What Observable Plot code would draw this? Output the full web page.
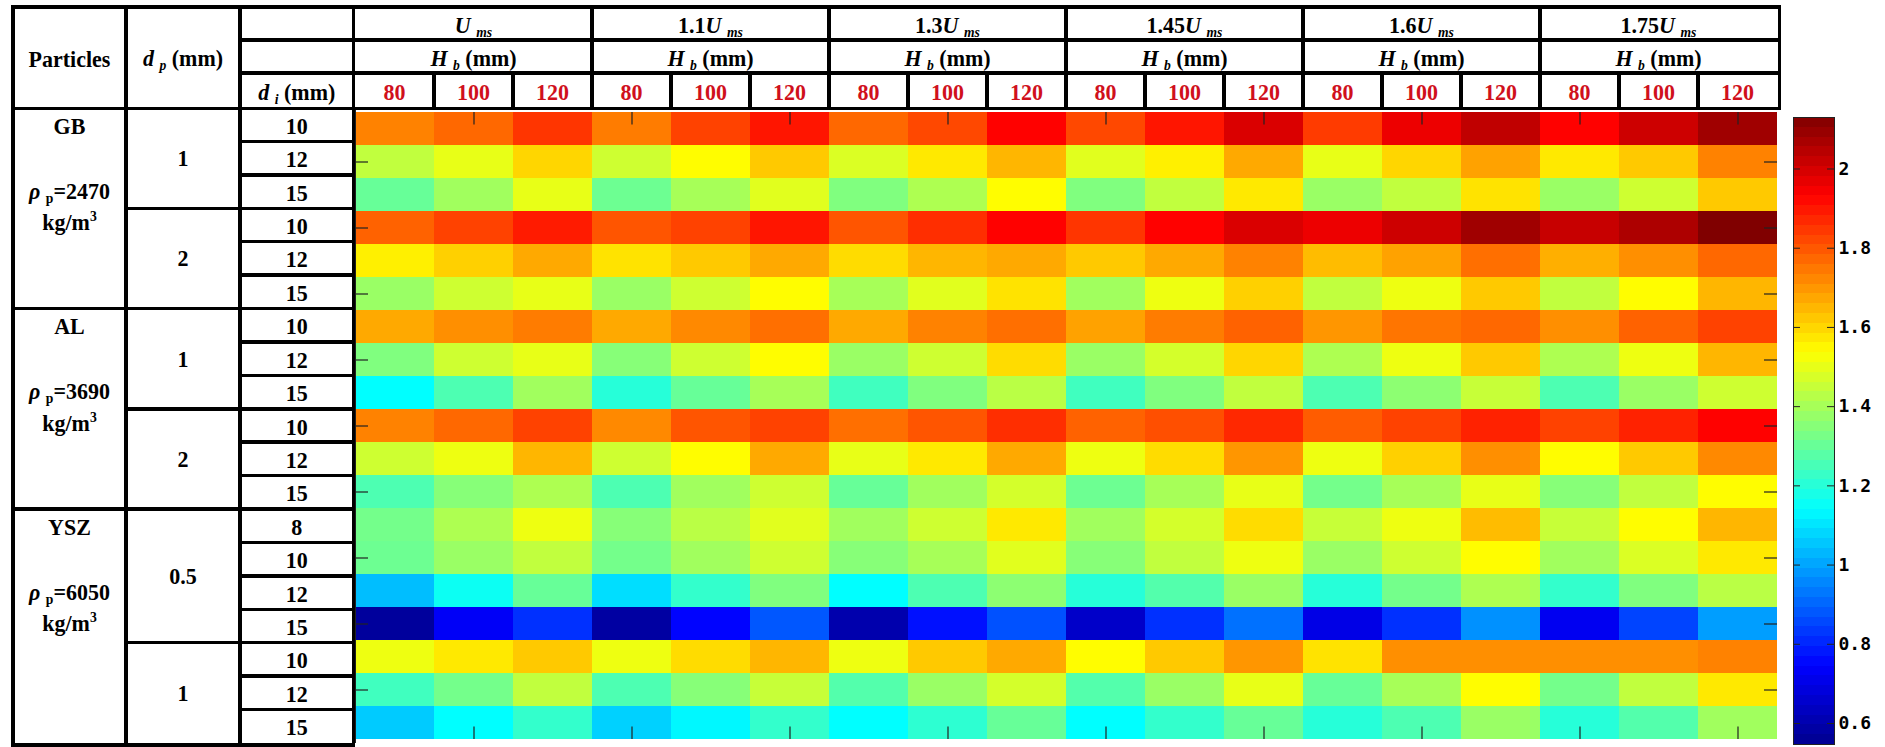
<!DOCTYPE html>
<html>
<head>
<meta charset="utf-8">
<script src="https://cdn.jsdelivr.net/npm/d3@7"></script>
<script src="https://cdn.jsdelivr.net/npm/@observablehq/plot@0.6"></script>
<style>
  html, body { margin: 0; padding: 0; background: #fff; }
  #root { position: relative; width: 1885px; height: 747px; overflow: hidden; font-family: "Liberation Serif", "Times New Roman", serif; font-weight: bold; color: #000; }
  .ln { position: absolute; background: #000; }
  .lb { position: absolute; transform: translate(-50%, -50%) scaleY(1.08); white-space: nowrap; line-height: 1; font-size: 22px; }
  .lb i { font-style: italic; }
  .lb sub { font-size: 0.62em; vertical-align: -0.3em; line-height: 0; }
  .lb sup { font-size: 0.62em; vertical-align: 0.55em; line-height: 0; }
  .red { color: #d0101c; }
  .abs { position: absolute; }
</style>
</head>
<body>
<div id="root"></div>
<script>
// ---------------- data ----------------
const velocityPrefixes = ["", "1.1", "1.3", "1.45", "1.6", "1.75"];   // multiples of U_ms
const bedHeights = ["80", "100", "120"];                                // H_b (mm)
const particleNames = ["GB", "AL", "YSZ"];
const particleDensities = ["2470", "3690", "6050"];                     // kg/m^3
const rowParticle = ["GB","GB","GB","GB","GB","GB","AL","AL","AL","AL","AL","AL","YSZ","YSZ","YSZ","YSZ","YSZ","YSZ","YSZ"];
const rowDp = ["1","1","1","2","2","2","1","1","1","2","2","2","0.5","0.5","0.5","0.5","1","1","1"];
const rowDi = ["10","12","15","10","12","15","10","12","15","10","12","15","8","10","12","15","10","12","15"];
const values = [
  [1.73,1.77,1.85,1.74,1.83,1.90, 1.77,1.82,1.93,1.82,1.90,1.99, 1.84,1.96,2.03,1.93,2.01,2.08],
  [1.44,1.50,1.60,1.46,1.54,1.62, 1.48,1.57,1.65,1.49,1.56,1.67, 1.50,1.60,1.68,1.57,1.62,1.73],
  [1.30,1.39,1.50,1.31,1.40,1.49, 1.34,1.41,1.54,1.34,1.44,1.57, 1.38,1.44,1.58,1.38,1.46,1.62],
  [1.78,1.83,1.89,1.80,1.83,1.90, 1.80,1.86,1.93,1.85,1.93,1.99, 1.96,2.01,2.08,2.02,2.06,2.13],
  [1.56,1.61,1.67,1.58,1.62,1.67, 1.59,1.65,1.67,1.62,1.67,1.73, 1.64,1.68,1.76,1.66,1.71,1.77],
  [1.38,1.46,1.50,1.38,1.46,1.54, 1.40,1.49,1.58,1.39,1.51,1.61, 1.44,1.51,1.62,1.44,1.54,1.65],
  [1.67,1.71,1.74,1.67,1.72,1.76, 1.67,1.73,1.76,1.68,1.74,1.78, 1.70,1.75,1.77,1.71,1.78,1.83],
  [1.34,1.46,1.50,1.35,1.46,1.54, 1.38,1.46,1.59,1.38,1.47,1.60, 1.41,1.51,1.62,1.41,1.51,1.65],
  [1.14,1.26,1.39,1.20,1.30,1.40, 1.24,1.34,1.43,1.24,1.34,1.44, 1.26,1.36,1.45,1.26,1.38,1.46],
  [1.73,1.77,1.83,1.72,1.80,1.83, 1.76,1.80,1.86,1.78,1.81,1.87, 1.79,1.83,1.88,1.83,1.88,1.93],
  [1.46,1.51,1.65,1.46,1.54,1.67, 1.50,1.57,1.67,1.51,1.59,1.70, 1.51,1.61,1.71,1.54,1.62,1.72],
  [1.26,1.35,1.41,1.26,1.39,1.46, 1.30,1.39,1.47,1.31,1.40,1.50, 1.32,1.40,1.50,1.35,1.44,1.54],
  [1.32,1.41,1.51,1.35,1.43,1.49, 1.39,1.46,1.57,1.39,1.47,1.59, 1.45,1.51,1.64,1.45,1.54,1.65],
  [1.31,1.38,1.44,1.32,1.39,1.46, 1.35,1.40,1.49,1.35,1.44,1.51, 1.38,1.46,1.54,1.39,1.48,1.57],
  [1.04,1.16,1.30,1.09,1.22,1.34, 1.14,1.26,1.36,1.20,1.27,1.38, 1.20,1.32,1.41,1.22,1.34,1.43],
  [0.57,0.73,0.82,0.58,0.75,0.88, 0.60,0.77,0.87,0.65,0.82,0.92, 0.70,0.82,0.97,0.72,0.85,0.99],
  [1.51,1.57,1.62,1.51,1.59,1.65, 1.51,1.62,1.67,1.54,1.62,1.70, 1.58,1.71,1.71,1.71,1.71,1.73],
  [1.24,1.32,1.44,1.26,1.35,1.45, 1.27,1.38,1.47,1.27,1.38,1.50, 1.30,1.40,1.54,1.32,1.44,1.57],
  [1.06,1.14,1.22,1.07,1.13,1.22, 1.14,1.21,1.30,1.14,1.22,1.30, 1.20,1.26,1.38,1.20,1.27,1.39]
];
const colorTicks = [0.6, 0.8, 1, 1.2, 1.4, 1.6, 1.8, 2];
const colorExtent = [0.547, 2.13];

// ---------------- layout / style ----------------
const X0 = 355, X1 = 1777, Y0 = 108, Y1 = 743;
const nCols = velocityPrefixes.length * bedHeights.length;
const nRows = rowDi.length;
const colW = (X1 - X0) / nCols, rowH = (Y1 - Y0) / nRows;
const groupW = colW * bedHeights.length;
const LW = 3.5;
const TICK = 13;
const jetT = [0, 0.125, 0.375, 0.625, 0.875, 1];
const jetColors = ["#00008f", "#0000ff", "#00ffff", "#ffff00", "#ff0000", "#800000"];
const jetDomain = jetT.map(t => colorExtent[0] + t * (colorExtent[1] - colorExtent[0]));
const colorScale = {type: "linear", domain: jetDomain, range: jetColors, interpolate: "rgb", clamp: true};

const root = document.getElementById("root");
function hline(x1, x2, y, w = LW) {
  const d = document.createElement("div"); d.className = "ln";
  Object.assign(d.style, {left: x1 + "px", top: (y - w / 2) + "px", width: (x2 - x1) + "px", height: w + "px"});
  root.appendChild(d);
}
function vline(x, y1, y2, w = LW) {
  const d = document.createElement("div"); d.className = "ln";
  Object.assign(d.style, {left: (x - w / 2) + "px", top: y1 + "px", width: w + "px", height: (y2 - y1) + "px"});
  root.appendChild(d);
}
function label(html, cx, cy, cls = "") {
  const d = document.createElement("div"); d.className = "lb " + cls;
  d.innerHTML = html;
  Object.assign(d.style, {left: cx + "px", top: cy + "px"});
  root.appendChild(d);
}

// ---------------- heatmap ----------------
const colKeys = velocityPrefixes.flatMap((v, i) => bedHeights.map(h => `${i}|${h}`));
const rowKeys = rowDi.map((d, i) => `${i}`);
const cells = values.flatMap((r, i) => r.map((v, j) => ({row: rowKeys[i], col: colKeys[j], v})));
const oddCols = colKeys.filter((_, j) => j % 2 === 1);
const oddRows = rowKeys.filter((_, i) => i % 2 === 1);

const heat = Plot.plot({
  width: X1 - X0, height: Y1 - Y0,
  marginTop: 0, marginRight: 0, marginBottom: 0, marginLeft: 0,
  x: {type: "band", domain: colKeys, padding: 0, axis: null},
  y: {type: "band", domain: rowKeys, padding: 0, axis: null},
  color: colorScale,
  marks: [
    Plot.cell(cells, {x: "col", y: "row", fill: "v", inset: 0, shapeRendering: "crispEdges"}),
    Plot.tickX(oddCols, {x: d => d, y: () => rowKeys[0], insetBottom: rowH - TICK, stroke: "#222", strokeWidth: 1.2}),
    Plot.tickX(oddCols, {x: d => d, y: () => rowKeys[nRows - 1], insetTop: rowH - TICK, stroke: "#222", strokeWidth: 1.2}),
    Plot.tickY(oddRows, {y: d => d, x: () => colKeys[0], insetRight: colW - TICK, stroke: "#222", strokeWidth: 1.2}),
    Plot.tickY(oddRows, {y: d => d, x: () => colKeys[nCols - 1], insetLeft: colW - TICK, stroke: "#222", strokeWidth: 1.2}),
    Plot.frame({stroke: "#222", strokeWidth: 1})
  ]
});
const heatBox = document.createElement("div");
heatBox.className = "abs";
Object.assign(heatBox.style, {left: X0 + "px", top: Y0 + "px"});
heatBox.appendChild(heat);
root.appendChild(heatBox);

// ---------------- colour bar ----------------
const nLevels = 64;
const step = (colorExtent[1] - colorExtent[0]) / nLevels;
const bands = d3.range(nLevels).map(i => ({y1: colorExtent[0] + i * step, y2: colorExtent[0] + (i + 1) * step, v: colorExtent[0] + (i + 0.5) * step}));
const CB_L = 1793, CB_T = 117, CB_W = 41, CB_H = 627;
const cbar = Plot.plot({
  width: CB_W + 1 + 50, height: CB_H + 2,
  marginLeft: 1, marginRight: 50, marginTop: 1, marginBottom: 1,
  style: {fontFamily: "'DejaVu Sans Mono', monospace", fontSize: "18px", fontWeight: "bold", overflow: "visible"},
  x: {domain: [0, 1], axis: null},
  y: {domain: colorExtent, axis: null},
  color: colorScale,
  marks: [
    Plot.rect(bands, {x1: () => 0, x2: () => 1, y1: "y1", y2: "y2", fill: "v", shapeRendering: "crispEdges"}),
    Plot.tickY(colorTicks, {y: d => d, insetRight: CB_W - 7, stroke: "#222"}),
    Plot.tickY(colorTicks, {y: d => d, insetLeft: CB_W - 7, stroke: "#222"}),
    Plot.axisY(colorTicks, {anchor: "right", tickSize: 0, tickPadding: 4, tickFormat: d => String(d), fontSize: 18, label: null}),
    Plot.frame({stroke: "#222", strokeWidth: 1})
  ]
});
const cbBox = document.createElement("div");
cbBox.className = "abs";
Object.assign(cbBox.style, {left: (CB_L - 1) + "px", top: (CB_T - 1) + "px"});
cbBox.appendChild(cbar);
root.appendChild(cbBox);

// ---------------- table lines ----------------
const TL = 13, TT = 7, C1 = 126, C2 = 240, C3 = 353.5, H1 = 40, H2 = 73, H3 = 108.5, TB = 745, TR = 1779.5;
hline(TL - LW / 2, TR + LW / 2, TT);
hline(C2, TR + LW / 2, H1);
hline(C2, TR + LW / 2, H2);
hline(TL - LW / 2, TR + LW / 2, H3);
for (let i = 1; i < nRows; i++) {
  const y = Y0 + i * rowH;
  if (rowParticle[i] !== rowParticle[i - 1]) hline(TL, X0, y);
  else if (rowDp[i] !== rowDp[i - 1]) hline(C1, X0, y);
  else hline(C2, X0, y);
}
hline(TL - LW / 2, X0, TB);
[TL, C1, C2, C3].forEach(x => vline(x, TT, TB + LW / 2));
for (let k = 1; k < velocityPrefixes.length; k++) vline(X0 + k * groupW, TT, H3);
for (let j = 1; j < nCols; j++) if (j % bedHeights.length) vline(X0 + j * colW, H2, H3);
vline(TR, TT, H3);

// ---------------- header text ----------------
label("Particles", (TL + C1) / 2, (TT + H3) / 2 + 1);
label("<i>d</i> <sub><i>p</i></sub> (mm)", (C1 + C2) / 2, (TT + H3) / 2);
label("<i>d</i> <sub><i>i</i></sub> (mm)", (C2 + C3) / 2, (H2 + H3) / 2 + 1);
velocityPrefixes.forEach((p, i) => {
  const cx = X0 + i * groupW + groupW / 2;
  label(`${p}<i>U</i> <sub><i>ms</i></sub>`, cx, (TT + H1) / 2 + 1);
  label("<i>H</i> <sub><i>b</i></sub> (mm)", cx, (H1 + H2) / 2 + 1);
  bedHeights.forEach((h, j) => {
    label(h, X0 + i * groupW + j * colW + colW / 2, (H2 + H3) / 2 + 1, "red");
  });
});

// ---------------- body text ----------------
const rowCenter = i => Y0 + (i + 0.5) * rowH;
rowDi.forEach((d, i) => label(d, (C2 + C3) / 2, rowCenter(i) + 1));
// dp groups
let start = 0;
for (let i = 1; i <= nRows; i++) {
  if (i === nRows || rowDp[i] !== rowDp[i - 1] || rowParticle[i] !== rowParticle[i - 1]) {
    label(rowDp[start], (C1 + C2) / 2, (rowCenter(start) + rowCenter(i - 1)) / 2);
    start = i;
  }
}
// particle groups
particleNames.forEach((name, k) => {
  const s = rowParticle.indexOf(name);
  const cx = (TL + C1) / 2;
  label(name, cx, rowCenter(s) + 1);
  label(`<i>ρ</i> <sub>p</sub>=${particleDensities[k]}`, cx, rowCenter(s + 2) - 1);
  label("kg/m<sup>3</sup>", cx, rowCenter(s + 3) - 3);
});
</script>
</body>
</html>
